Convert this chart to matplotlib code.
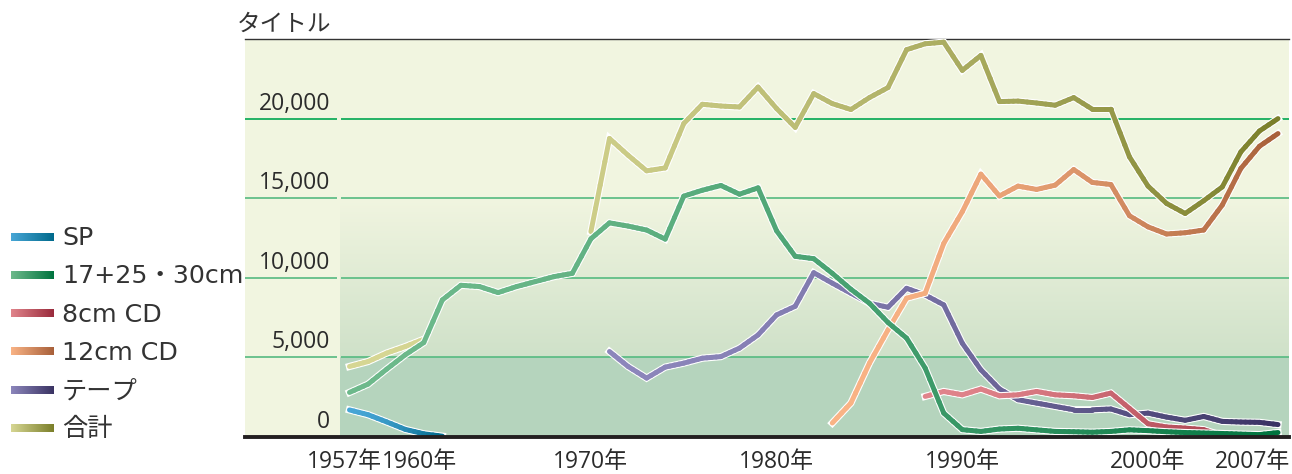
import numpy as np
import matplotlib
matplotlib.use("Agg")
import matplotlib.pyplot as plt
from matplotlib.collections import LineCollection
from matplotlib.colors import to_rgb
import matplotlib.transforms as mtransforms

# ---------------- data ----------------
sp_years = list(range(1957, 1963))
sp_values = [1700, 1400, 950, 480, 200, 50]

lp_years = list(range(1957, 2008))
lp_values = [2800, 3320, 4260, 5160, 5930, 8610, 9530, 9450, 9070, 9450,
             9760, 10070, 10280, 12450, 13450, 13250, 13000, 12430, 15130, 15500,
             15800, 15250, 15650, 12950, 11350, 11200, 10280, 9280, 8400, 7190,
             6210, 4330, 1500, 460, 350, 500, 550, 450, 350, 330,
             300, 350, 450, 400, 330, 280, 250, 220, 180, 150, 280]

cd8_years = list(range(1988, 2008))
cd8_values = [2550, 2860, 2650, 3010, 2590, 2650, 2860, 2650, 2590, 2480,
              2760, 1800, 830, 630, 560, 460, 80, 40, 30, 20]

cd12_years = list(range(1983, 2008))
cd12_values = [880, 2130, 4640, 6730, 8720, 9030, 12160, 14150, 16510, 15140,
               15760, 15550, 15820, 16800, 15990, 15860, 13900, 13200, 12750, 12830,
               13000, 14570, 16870, 18260, 19060]

tape_years = list(range(1971, 2008))
tape_values = [5370, 4430, 3700, 4390, 4640, 4950, 5050, 5580, 6410, 7670,
               8210, 10320, 9660, 9030, 8400, 8150, 9340, 8920, 8300, 5890,
               4220, 3020, 2340, 2130, 1920, 1710, 1710, 1760, 1400, 1500,
               1250, 1050, 1290, 980, 940, 920, 780]

total_years = list(range(1957, 2008))
total_values = [4430, 4740, 5270, 5680, 6140,
                None, None, None, None, None, None, None, None,
                12900, 18750, 17700, 16720, 16900, 19690, 20900, 20790, 20730, 21980,
                20630, 19450, 21570, 20940, 20570, 21320, 21950, 24330, 24700, 24800,
                23030, 23970, 21070, 21100, 20980, 20840, 21320, 20590, 20590, 17600,
                15760, 14670, 14040, 14840, 15710, 17910, 19220, 20000]

series_labels = ["SP", "17+25・30cm", "8cm CD", "12cm CD", "テープ", "合計"]
y_ticks = [0, 5000, 10000, 15000, 20000]
y_tick_labels = ["0", "5,000", "10,000", "15,000", "20,000"]
x_ticks = [1957, 1960, 1970, 1980, 1990, 2000, 2007]
x_tick_labels = ["1957年", "1960年", "1970年", "1980年", "1990年", "2000年", "2007年"]
title_text = "タイトル"

# ---------------- style ----------------
series = [
    (sp_years, sp_values, "#48a6d6", "#006a8c"),
    (lp_years, lp_values, "#6db98b", "#00743f"),
    (cd8_years, cd8_values, "#e0848b", "#9a2b3c"),
    (cd12_years, cd12_values, "#f9b385", "#a8603a"),
    (tape_years, tape_values, "#8c86bb", "#3a3363"),
    (total_years, total_values, "#d6d693", "#7b7f2a"),
]
zorders = [12, 11, 10, 9, 8, 7]

W, H = 1292, 474
PX_PER_YEAR = 18.57
X_1957 = 349.5
def px2yr(px):
    return 1957 + (px - X_1957) / PX_PER_YEAR

X0, X1 = px2yr(245), px2yr(1289)
GRAD_X = px2yr(340)
GAP0, GAP1 = px2yr(337), px2yr(341)
YMAX = 25000

num_font = ["Open Sans", "Noto Sans CJK JP"]
jp_font = ["Noto Sans CJK JP", "DejaVu Sans"]
leg_font = ["DejaVu Sans", "Noto Sans CJK JP"]
TXT = "#2b2b2b"

fig = plt.figure(figsize=(W / 100, H / 100), dpi=100)
ax = fig.add_axes([245 / W, (H - 437) / H, (1289 - 245) / W, (437 - 39) / H])
ax.set_facecolor("#f1f5e0")

# background gradient
v = np.linspace(0, YMAX, 1251)
cream = np.array(to_rgb("#f1f5e0"))
low = np.array(to_rgb("#cfe1c9"))
green = np.array(to_rgb("#b5d4bd"))
t = np.clip((v - 5000) / 10000, 0, 1)[:, None]
col = low + (cream - low) * t
col[v < 5000] = green
ax.imshow(col[:, None, :], extent=[GRAD_X, X1, 0, YMAX], origin="lower",
          aspect="auto", interpolation="nearest", zorder=0)

# gridlines
for yv in y_ticks[1:]:
    c = "#00a650" if yv == 20000 else "#55ba80"
    ax.hlines(yv, X0, GAP0, color=c, lw=1.2, zorder=1)
    ax.hlines(yv, GAP1, X1, color=c, lw=1.2, zorder=1)

# lines
def mix(c0, c1, t):
    a, b = np.array(to_rgb(c0)), np.array(to_rgb(c1))
    return a + (b - a) * t

for (xs, ys, c0, c1), z in zip(series, zorders):
    xs = np.asarray(xs, float)
    ys = np.array([np.nan if y is None else y for y in ys], float)
    ax.plot(xs, ys, color="white", lw=5.2, solid_capstyle="projecting",
            solid_joinstyle="miter", zorder=z)
    m = ~np.isnan(ys)
    xa, xb = xs[m].min(), xs[m].max()
    segs, cols = [], []
    for i in range(len(xs) - 1):
        if np.isnan(ys[i]) or np.isnan(ys[i + 1]):
            continue
        n = 4
        for k in range(n):
            f0, f1 = k / n, (k + 1) / n
            p0 = (xs[i] + (xs[i + 1] - xs[i]) * f0, ys[i] + (ys[i + 1] - ys[i]) * f0)
            p1 = (xs[i] + (xs[i + 1] - xs[i]) * f1, ys[i] + (ys[i + 1] - ys[i]) * f1)
            tm = ((p0[0] + p1[0]) / 2 - xa) / (xb - xa)
            segs.append([p0, p1])
            cols.append(mix(c0, c1, np.clip(tm, 0, 1) ** 1.7))
    lc = LineCollection(segs, colors=cols, linewidths=3.6, capstyle="round",
                        joinstyle="round", zorder=z + 0.5)
    ax.add_collection(lc)

ax.set_xlim(X0, X1)
ax.set_ylim(0, YMAX)

for s in ["left", "right"]:
    ax.spines[s].set_visible(False)
ax.spines["top"].set_color("#333333")
ax.spines["top"].set_linewidth(1.0)
ax.spines["bottom"].set_color("#231f20")
ax.spines["bottom"].set_linewidth(2.8)
ax.spines["bottom"].set_zorder(20)

# y labels inside the plot
ylab_x = px2yr(330)
off = mtransforms.ScaledTranslation(0, 9 / 100, fig.dpi_scale_trans)
for yv, lab in zip(y_ticks, y_tick_labels):
    ax.text(ylab_x, yv, lab, ha="right", va="baseline", fontsize=16.5,
            family=num_font, color=TXT, transform=ax.transData + off, zorder=25)
ax.set_yticks([])

# x tick labels
ax.set_xticks(x_ticks, labels=x_tick_labels)
ax.tick_params(axis="x", length=0, pad=9.5, labelsize=16.5, colors=TXT)
x_offsets = {1957: -5, 1960: 14, 2007: -25}
for tk, lab in zip(x_ticks, ax.get_xticklabels()):
    lab.set_family(num_font)
    dx = x_offsets.get(tk, 0)
    if dx:
        lab.set_transform(lab.get_transform() +
                          mtransforms.ScaledTranslation(dx / 100, 0, fig.dpi_scale_trans))

# title
fig.text(237 / W, 1 - 31 / H, title_text, ha="left", va="baseline", fontsize=17,
         family=jp_font, color="#333333")

# legend (overlay in pixel coordinates)
lax = fig.add_axes([0, 0, 1, 1], zorder=5)
lax.set_xlim(0, W)
lax.set_ylim(H, 0)
lax.axis("off")
lax.patch.set_alpha(0)
grad = np.linspace(0, 1, 64)
row_y0, row_dy = 237, 38.3
for i, ((xs, ys, c0, c1), lab) in enumerate(zip(series, series_labels)):
    yc = row_y0 + i * row_dy
    g = np.array([mix(c0, c1, tt) for tt in grad])[None, :, :]
    lax.imshow(g, extent=[11, 54, yc + 3.6, yc - 3.6], aspect="auto",
               interpolation="bilinear")
    lax.text(62, yc + 1, lab, ha="left", va="center", fontsize=18.2,
             family=leg_font, color="#333333")
lax.set_xlim(0, W)
lax.set_ylim(H, 0)

fig.savefig("out.png", dpi=100)
